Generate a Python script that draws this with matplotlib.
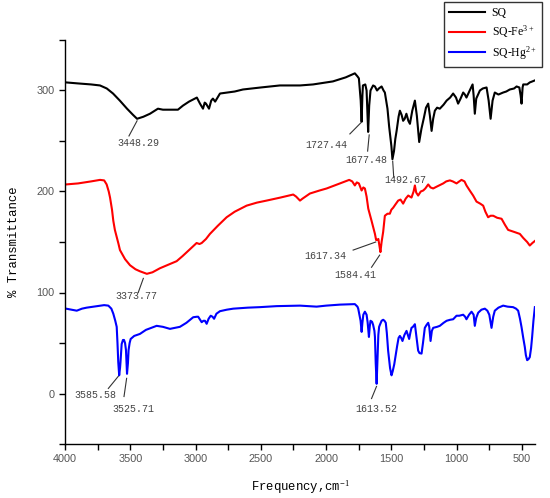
import matplotlib
matplotlib.use("Agg")
import matplotlib.pyplot as plt
import numpy as np

# ---- data (wavenumber, % transmittance) ----
sq_wn = [3992, 3900, 3800, 3732, 3680, 3632, 3580, 3525, 3480, 3448, 3400, 3349, 3288, 3250, 3219, 3135,
         3097, 3050, 2990, 2966, 2943, 2930, 2920, 2897, 2880, 2867, 2850, 2813, 2700, 2637, 2500, 2354,
         2200, 2100, 1948, 1850, 1780, 1760, 1749, 1735, 1728, 1722, 1718, 1700, 1690, 1678, 1670, 1660,
         1640, 1626, 1610, 1596, 1575, 1560, 1550, 1530, 1517, 1500, 1492, 1480, 1470, 1460, 1445, 1435,
         1422, 1410, 1398, 1385, 1370, 1358, 1340, 1320, 1305, 1287, 1270, 1251, 1235, 1218, 1205, 1192,
         1180, 1167, 1150, 1129, 1100, 1077, 1050, 1027, 1005, 989, 970, 950, 937, 925, 900, 878, 870,
         861, 850, 822, 800, 771, 755, 740, 725, 708, 680, 644, 620, 593, 560, 541, 520, 510, 503, 495,
         490, 460, 440, 420, 401]
sq_t = [308, 307, 306, 305, 302, 297, 290, 282, 276, 272, 274, 277, 282, 281, 281, 281,
        285, 289, 293, 287, 282, 288, 287, 282, 290, 292, 289, 297, 299, 301, 303, 305,
        305, 306, 309, 313, 317, 314, 312, 290, 269, 295, 305, 306, 300, 259, 285, 300,
        305, 304, 300, 302, 304, 300, 298, 282, 264, 245, 232, 240, 252, 260, 274, 280,
        276, 270, 272, 277, 270, 267, 280, 290, 275, 249, 262, 273, 283, 287, 275, 260,
        272, 280, 283, 282, 286, 290, 293, 297, 293, 287, 292, 298, 296, 293, 300, 306, 295,
        277, 292, 300, 302, 303, 290, 272, 290, 298, 296, 298, 299, 301, 302, 304, 303, 295, 287, 303,
        306, 306, 308, 309, 310]

fe_wn = [3992, 3900, 3800, 3732, 3700, 3681, 3665, 3655, 3640, 3630, 3618, 3604, 3590, 3579, 3540, 3502,
         3460, 3426, 3373, 3330, 3273, 3200, 3145, 3100, 3050, 2992, 2970, 2953, 2920, 2890, 2830, 2762,
         2700, 2609, 2530, 2456, 2350, 2252, 2230, 2200, 2180, 2124, 2050, 1996, 1894, 1823, 1800, 1780,
         1765, 1749, 1728, 1715, 1703, 1690, 1677, 1652, 1640, 1626, 1617, 1609, 1600, 1590, 1584, 1575,
         1563, 1550, 1530, 1512, 1500, 1486, 1470, 1448, 1430, 1410, 1390, 1371, 1346, 1330, 1320, 1310,
         1295, 1275, 1256, 1240, 1218, 1200, 1180, 1150, 1103, 1080, 1052, 1030, 1001, 980, 963, 940,
         925, 900, 874, 848, 820, 797, 780, 759, 740, 720, 690, 656, 630, 606, 560, 516, 490, 460, 440,
         420, 401]
fe_t = [207, 208, 210, 211.5, 211, 207, 200, 194, 182, 171, 162, 155, 148, 142, 133, 127,
        123, 121, 118.5, 120, 124, 128, 131, 136, 142, 149, 148, 149, 153, 158, 166, 174.5,
        180, 186, 189, 191, 194, 197, 195, 191, 193, 198, 201, 203, 208, 211.5, 210, 206,
        209, 208, 201, 204, 203, 195, 183, 171, 165, 158, 152, 152, 153, 145, 140, 150,
        160, 176, 178, 178, 182, 184, 187, 191, 192, 188, 193, 196, 194, 200, 206, 199,
        196, 200, 201, 203, 207, 204, 203, 205, 208, 210, 211, 210, 208, 210, 211.5, 210,
        206, 201, 196, 190, 188, 186, 180, 174.5, 176, 176, 174, 173, 167, 162, 160, 158, 154, 150, 146.5,
        149, 151]

hg_wn = [3992, 3950, 3910, 3870, 3834, 3780, 3732, 3700, 3668, 3645, 3630, 3615, 3604, 3598, 3592, 3585,
         3578, 3575, 3570, 3566, 3556, 3548, 3540, 3533, 3525, 3518, 3513, 3505, 3497, 3470, 3426, 3380,
         3340, 3298, 3250, 3196, 3160, 3120, 3070, 3018, 2990, 2980, 2965, 2953, 2940, 2928, 2915, 2900,
         2884, 2870, 2858, 2840, 2813, 2760, 2711, 2600, 2507, 2379, 2200, 2073, 2000, 1894, 1780, 1760,
         1754, 1745, 1736, 1728, 1722, 1715, 1703, 1690, 1682, 1672, 1666, 1660, 1648, 1640, 1630, 1626,
         1620, 1613, 1606, 1600, 1594, 1588, 1575, 1563, 1553, 1543, 1535, 1525, 1510, 1499, 1490, 1478,
         1465, 1456, 1445, 1435, 1425, 1415, 1400, 1384, 1374, 1364, 1355, 1346, 1335, 1320, 1310, 1295,
         1285, 1269, 1258, 1244, 1230, 1218, 1210, 1200, 1190, 1180, 1150, 1129, 1100, 1077, 1050, 1027,
         1001, 980, 950, 935, 925, 905, 886, 870, 861, 850, 835, 810, 784, 765, 750, 740, 733, 720, 708,
         680, 644, 610, 568, 545, 529, 515, 503, 490, 478, 470, 460, 450, 440, 430, 422, 412, 401]
hg_t = [84, 83, 82, 84, 85, 86, 87, 87.5, 87, 84, 79, 72, 66, 50, 31, 18,
        26, 31, 42, 49, 53, 53, 50, 43, 19.5, 30, 43, 50, 54, 57, 59, 63,
        65, 67, 66, 64, 65, 66, 70, 75.5, 76, 76, 73, 70.6, 72, 72, 69, 74,
        77, 76, 74, 79, 81.5, 83, 84, 85, 85.5, 86.5, 87, 86, 87, 88, 88.5, 86,
        84, 78, 72, 61, 70, 78, 81, 78, 70.5, 56, 66, 72, 71, 68, 62, 56,
        30, 9.6, 35, 58, 66, 68, 72, 73, 72, 70, 60, 42.5, 25, 18, 22, 29,
        40, 47, 55, 57, 55, 52, 58, 62, 58, 54, 60, 65, 66, 68.6, 58, 42.5,
        40, 39.5, 50, 65, 68, 70, 66, 52, 62, 65, 66, 67, 70, 72, 73, 73.5,
        77, 77, 78, 76, 73.5, 78, 81, 78, 67, 75, 80, 83, 84, 82, 78, 70, 65, 76, 82,
        85, 87, 86, 85.5, 84, 82, 74, 65.6, 55, 46, 38, 33, 34, 36, 45, 56, 72, 85.5]

series_names = ["SQ", "SQ-Fe$^{3+}$", "SQ-Hg$^{2+}$"]
series_colors = ["#000000", "#ff0000", "#0000ff"]

# peak labels: text, peak (x, y), line end (x, y), text centre (x, y)
peak_labels = ["3448.29", "1727.44", "1677.48", "1492.67", "3373.77",
               "1617.34", "1584.41", "3585.58", "3525.71", "1613.52"]
peak_xy = [(3448, 270), (1734, 268), (1670, 256), (1490, 230), (3400, 114),
           (1620, 150), (1590, 137), (3592, 17), (3528, 15), (1614, 7)]
line_end = [(3510, 255), (1818, 257), (1682, 240), (1482, 214), (3439, 100),
            (1793, 142), (1652, 125), (3668, 5), (3548, -3), (1652, -5)]
text_xy = [(3440, 248), (1996, 246), (1690, 231), (1397, 211), (3451, 97),
           (2009, 136), (1780, 117), (3770, -1), (3477, -15), (1614, -15)]

x_ticks = [4000, 3500, 3000, 2500, 2000, 1500, 1000, 500]
y_ticks = [0, 100, 200, 300]

# ---- figure ----
plt.rcParams['mathtext.fontset'] = 'custom'
plt.rcParams['mathtext.rm'] = 'Liberation Serif'
plt.rcParams['mathtext.it'] = 'Liberation Serif'

fig = plt.figure(figsize=(5.5, 4.98), dpi=100)
ax = fig.add_axes([65 / 550, 1 - 444 / 498, 470 / 550, 404 / 498])

for wn, t, name, c in zip([sq_wn, fe_wn, hg_wn], [sq_t, fe_t, hg_t], series_names, series_colors):
    ax.plot(wn, t, color=c, lw=1.5, label=name)

ax.set_xlim(4000, 400)
ax.set_ylim(-50, 350)
ax.set_xticks(x_ticks)
ax.set_yticks(y_ticks)
ax.set_xticks(np.arange(3750, 400, -500), minor=True)
ax.set_yticks([-50, 50, 150, 250, 350], minor=True)
for s in ['top', 'right']:
    ax.spines[s].set_visible(False)
for s in ['left', 'bottom']:
    ax.spines[s].set_linewidth(1.0)
ax.tick_params(which='both', direction='out', length=4, width=1.0, labelsize=7.8,
               labelcolor='#555555')
for lab in ax.get_xticklabels() + ax.get_yticklabels():
    lab.set_family('Liberation Sans')

for lab, p, e, t in zip(peak_labels, peak_xy, line_end, text_xy):
    ax.plot([p[0], e[0]], [p[1], e[1]], color='#333333', lw=0.8)
    ax.text(t[0], t[1], lab, ha='center', va='center', fontsize=7.2,
            family='Liberation Mono', color='#444444')

ax.set_xlabel("Frequency,cm$^{-1}$", family='Liberation Mono', fontsize=8.8, labelpad=10)
ax.set_ylabel("% Transmittance", family='Liberation Mono', fontsize=8.8, labelpad=12)

leg = fig.legend(loc='upper right', bbox_to_anchor=(542 / 550, 1 - 2 / 498),
                 prop={'family': 'Liberation Serif', 'size': 8.5}, frameon=True,
                 fancybox=False, handlelength=3.0, borderpad=0.45, labelspacing=0.35,
                 handletextpad=0.6, borderaxespad=0.0)
leg.get_frame().set_edgecolor('black')
leg.get_frame().set_linewidth(1.0)
for l in leg.get_lines():
    l.set_linewidth(1.5)

fig.savefig("out.png", dpi=100)
